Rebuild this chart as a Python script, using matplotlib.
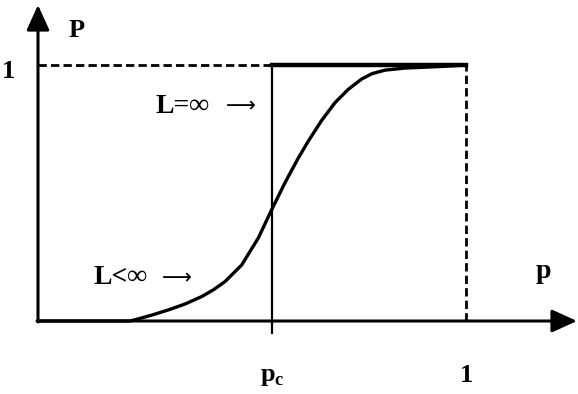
import matplotlib
matplotlib.use("Agg")
import matplotlib.pyplot as plt

# Spanning probability P(p) for a finite lattice (L < inf)
p_vals = [0.0, 0.215, 0.227, 0.266, 0.304, 0.343, 0.382, 0.410, 0.437,
          0.476, 0.515, 0.544, 0.577, 0.608, 0.632, 0.663, 0.694, 0.725,
          0.756, 0.780, 0.811, 0.857, 0.951, 1.0]
P_vals = [0.0, 0.0, 0.005, 0.023, 0.043, 0.066, 0.095, 0.122, 0.154,
          0.219, 0.325, 0.428, 0.540, 0.636, 0.704, 0.784, 0.853, 0.905,
          0.945, 0.966, 0.980, 0.988, 0.995, 1.0]

pc = 0.547
x_ticks = [pc, 1.0]
x_ticklabels = ["p$_\\mathregular{c}$", "1"]

plt.rcParams['font.family'] = ['Liberation Serif', 'DejaVu Serif']

fig = plt.figure(figsize=(5.78, 3.94), dpi=100)
ax = fig.add_axes([0, 0, 1, 1])
# pixel -> data: x = (px - 38) / 428, y = (321 - py) / 256
ax.set_xlim(-38 / 428, 540 / 428)
ax.set_ylim(-73 / 256, 321 / 256)
ax.axis('off')

# axes with arrow heads
arrow = dict(arrowstyle='-|>,head_length=1.1,head_width=0.5',
             lw=2.2, color='black', mutation_scale=14, shrinkA=0, shrinkB=0)
ax.annotate('', xy=(0, 316 / 256), xytext=(0, -1 / 256), arrowprops=arrow)
ax.annotate('', xy=(539 / 428, 0), xytext=(-1 / 428, 0), arrowprops=arrow)

# L = infinity: step function
ax.plot([0, pc], [1, 1], color='black', lw=2.0, ls=(0, (3, 1.5)))
ax.plot([pc, 1.0], [1, 1], color='black', lw=3.2)
ax.plot([pc, pc], [-12 / 256, 1], color='black', lw=1.6)
ax.plot([1.0, 1.0], [0, 1], color='black', lw=2.0, ls=(0, (3, 1.5)))

# L < infinity: smooth curve
ax.plot(p_vals, P_vals, color='black', lw=2.4, solid_capstyle='round',
        solid_joinstyle='round')

# labels
ax.text((77 - 38) / 428, (321 - 30) / 256, "P", fontsize=19,
        fontweight='bold', ha='center', va='center')
ax.text(-30 / 428, (321 - 71) / 256, "1", fontsize=19,
        fontweight='bold', ha='center', va='center')
ax.text((543 - 38) / 428, (321 - 272) / 256, "p", fontsize=20,
        fontweight='bold', ha='center', va='center')
for xt, lab in zip(x_ticks, x_ticklabels):
    ax.text(xt, (321 - 376) / 256, lab, fontsize=19, fontweight='bold',
            ha='center', va='center')

ax.text((156 - 38) / 428, (321 - 106) / 256, "L=\u221e", fontsize=20,
        fontweight='bold', ha='left', va='center')
ax.text((226 - 38) / 428, (321 - 106) / 256, "\u27f6", fontsize=15,
        family='DejaVu Sans', ha='left', va='center')
ax.text((93 - 38) / 428, (321 - 278) / 256, "L<\u221e", fontsize=20,
        fontweight='bold', ha='left', va='center')
ax.text((162 - 38) / 428, (321 - 278) / 256, "\u27f6", fontsize=15,
        family='DejaVu Sans', ha='left', va='center')

fig.savefig("out.png", dpi=100)
